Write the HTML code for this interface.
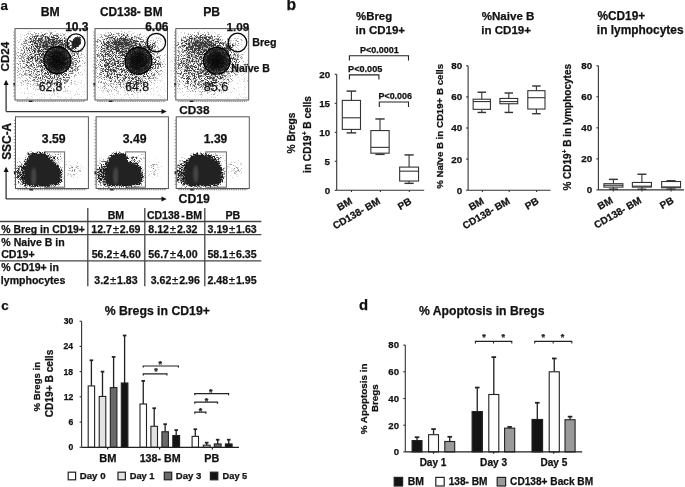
<!DOCTYPE html>
<html><head><meta charset="utf-8"><style>
html,body{margin:0;padding:0;background:#fff;width:685px;height:487px;overflow:hidden}
svg{display:block;will-change:transform;font-family:"Liberation Sans", sans-serif;font-weight:bold}
text{stroke:#111;stroke-width:0.25px;paint-order:stroke}
</style></head><body>
<svg width="685" height="487" viewBox="0 0 685 487">
<rect width="685" height="487" fill="#fff"/>
<text x="0.51" y="9.60" font-size="13.32" fill="#111">a</text>
<text x="40.78" y="15.80" font-size="12.24" fill="#111">BM</text>
<text x="99.91" y="15.80" font-size="11.87" fill="#111">CD138- BM</text>
<text x="203.19" y="15.90" font-size="12.14" fill="#111">PB</text>
<defs>
<radialGradient id="rg"><stop offset="0" stop-color="#000" stop-opacity="1"/><stop offset="0.6" stop-color="#000" stop-opacity="0.6"/><stop offset="1" stop-color="#000" stop-opacity="0"/></radialGradient>
<radialGradient id="rgf"><stop offset="0" stop-color="#000" stop-opacity="1"/><stop offset="0.75" stop-color="#000" stop-opacity="0.9"/><stop offset="1" stop-color="#000" stop-opacity="0"/></radialGradient>
<radialGradient id="rgc"><stop offset="0" stop-color="#000" stop-opacity="1"/><stop offset="0.9" stop-color="#000" stop-opacity="1"/><stop offset="1" stop-color="#000" stop-opacity="0.5"/></radialGradient><radialGradient id="rcore"><stop offset="0" stop-color="#000" stop-opacity="0.88"/><stop offset="0.6" stop-color="#000" stop-opacity="0.72"/><stop offset="1" stop-color="#000" stop-opacity="0.3"/></radialGradient><radialGradient id="rgl"><stop offset="0" stop-color="#000" stop-opacity="1"/><stop offset="1" stop-color="#000" stop-opacity="0"/></radialGradient>
<filter id="st0" x="0" y="0" width="1" height="1" color-interpolation-filters="sRGB">
<feTurbulence type="fractalNoise" baseFrequency="1.7" numOctaves="1" seed="3" result="n"/>
<feComponentTransfer in="n" result="nu"><feFuncR type="table" tableValues="0 0 0 0 0 0 0 0 0 0.001 0.004 0.013 0.029 0.052 0.089 0.126 0.183 0.240 0.316 0.415 0.492 0.589 0.688 0.762 0.825 0.871 0.910 0.946 0.969 0.986 0.996 0.998 1 1 1 1 1 1 1 1 1"/></feComponentTransfer>
<feColorMatrix in="nu" type="matrix" values="0 0 0 0 0 0 0 0 0 0 0 0 0 0 0 1 0 0 0 0" result="na"/>
<feComposite in="SourceAlpha" in2="na" operator="arithmetic" k2="2.2" k3="-1.6" k4="0" result="df"/>
<feColorMatrix type="matrix" values="0 0 0 0 0.22 0 0 0 0 0.22 0 0 0 0 0.22 0 0 0 1 0"/>
<feGaussianBlur stdDeviation="0.75"/>
</filter>
<filter id="st1" x="0" y="0" width="1" height="1" color-interpolation-filters="sRGB">
<feTurbulence type="fractalNoise" baseFrequency="1.7" numOctaves="1" seed="10" result="n"/>
<feComponentTransfer in="n" result="nu"><feFuncR type="table" tableValues="0 0 0 0 0 0 0 0 0 0.001 0.004 0.013 0.029 0.052 0.089 0.126 0.183 0.240 0.316 0.415 0.492 0.589 0.688 0.762 0.825 0.871 0.910 0.946 0.969 0.986 0.996 0.998 1 1 1 1 1 1 1 1 1"/></feComponentTransfer>
<feColorMatrix in="nu" type="matrix" values="0 0 0 0 0 0 0 0 0 0 0 0 0 0 0 1 0 0 0 0" result="na"/>
<feComposite in="SourceAlpha" in2="na" operator="arithmetic" k2="2.2" k3="-1.6" k4="0" result="df"/>
<feColorMatrix type="matrix" values="0 0 0 0 0.22 0 0 0 0 0.22 0 0 0 0 0.22 0 0 0 1 0"/>
<feGaussianBlur stdDeviation="0.75"/>
</filter>
<filter id="st2" x="0" y="0" width="1" height="1" color-interpolation-filters="sRGB">
<feTurbulence type="fractalNoise" baseFrequency="1.7" numOctaves="1" seed="17" result="n"/>
<feComponentTransfer in="n" result="nu"><feFuncR type="table" tableValues="0 0 0 0 0 0 0 0 0 0.001 0.004 0.013 0.029 0.052 0.089 0.126 0.183 0.240 0.316 0.415 0.492 0.589 0.688 0.762 0.825 0.871 0.910 0.946 0.969 0.986 0.996 0.998 1 1 1 1 1 1 1 1 1"/></feComponentTransfer>
<feColorMatrix in="nu" type="matrix" values="0 0 0 0 0 0 0 0 0 0 0 0 0 0 0 1 0 0 0 0" result="na"/>
<feComposite in="SourceAlpha" in2="na" operator="arithmetic" k2="2.2" k3="-1.6" k4="0" result="df"/>
<feColorMatrix type="matrix" values="0 0 0 0 0.22 0 0 0 0 0.22 0 0 0 0 0.22 0 0 0 1 0"/>
<feGaussianBlur stdDeviation="0.75"/>
</filter>
<filter id="st3" x="0" y="0" width="1" height="1" color-interpolation-filters="sRGB">
<feTurbulence type="fractalNoise" baseFrequency="1.7" numOctaves="1" seed="24" result="n"/>
<feComponentTransfer in="n" result="nu"><feFuncR type="table" tableValues="0 0 0 0 0 0 0 0 0 0.001 0.004 0.013 0.029 0.052 0.089 0.126 0.183 0.240 0.316 0.415 0.492 0.589 0.688 0.762 0.825 0.871 0.910 0.946 0.969 0.986 0.996 0.998 1 1 1 1 1 1 1 1 1"/></feComponentTransfer>
<feColorMatrix in="nu" type="matrix" values="0 0 0 0 0 0 0 0 0 0 0 0 0 0 0 1 0 0 0 0" result="na"/>
<feComposite in="SourceAlpha" in2="na" operator="arithmetic" k2="2.2" k3="-1.6" k4="0" result="df"/>
<feColorMatrix type="matrix" values="0 0 0 0 0.12 0 0 0 0 0.12 0 0 0 0 0.12 0 0 0 1 0"/>
<feGaussianBlur stdDeviation="0.75"/>
</filter>
<filter id="st4" x="0" y="0" width="1" height="1" color-interpolation-filters="sRGB">
<feTurbulence type="fractalNoise" baseFrequency="1.7" numOctaves="1" seed="31" result="n"/>
<feComponentTransfer in="n" result="nu"><feFuncR type="table" tableValues="0 0 0 0 0 0 0 0 0 0.001 0.004 0.013 0.029 0.052 0.089 0.126 0.183 0.240 0.316 0.415 0.492 0.589 0.688 0.762 0.825 0.871 0.910 0.946 0.969 0.986 0.996 0.998 1 1 1 1 1 1 1 1 1"/></feComponentTransfer>
<feColorMatrix in="nu" type="matrix" values="0 0 0 0 0 0 0 0 0 0 0 0 0 0 0 1 0 0 0 0" result="na"/>
<feComposite in="SourceAlpha" in2="na" operator="arithmetic" k2="2.2" k3="-1.6" k4="0" result="df"/>
<feColorMatrix type="matrix" values="0 0 0 0 0.12 0 0 0 0 0.12 0 0 0 0 0.12 0 0 0 1 0"/>
<feGaussianBlur stdDeviation="0.75"/>
</filter>
<filter id="st5" x="0" y="0" width="1" height="1" color-interpolation-filters="sRGB">
<feTurbulence type="fractalNoise" baseFrequency="1.7" numOctaves="1" seed="38" result="n"/>
<feComponentTransfer in="n" result="nu"><feFuncR type="table" tableValues="0 0 0 0 0 0 0 0 0 0.001 0.004 0.013 0.029 0.052 0.089 0.126 0.183 0.240 0.316 0.415 0.492 0.589 0.688 0.762 0.825 0.871 0.910 0.946 0.969 0.986 0.996 0.998 1 1 1 1 1 1 1 1 1"/></feComponentTransfer>
<feColorMatrix in="nu" type="matrix" values="0 0 0 0 0 0 0 0 0 0 0 0 0 0 0 1 0 0 0 0" result="na"/>
<feComposite in="SourceAlpha" in2="na" operator="arithmetic" k2="2.2" k3="-1.6" k4="0" result="df"/>
<feColorMatrix type="matrix" values="0 0 0 0 0.12 0 0 0 0 0.12 0 0 0 0 0.12 0 0 0 1 0"/>
<feGaussianBlur stdDeviation="0.75"/>
</filter>
<filter id="bl1"><feGaussianBlur stdDeviation="1"/></filter>
<filter id="bl05"><feGaussianBlur stdDeviation="0.6"/></filter><filter id="bl15"><feGaussianBlur stdDeviation="1.5"/></filter>
<filter id="bl2"><feGaussianBlur stdDeviation="2"/></filter>
</defs>
<g>
<rect x="15.00" y="28.60" width="72.30" height="71.40" fill="#fff"/>
<g filter="url(#st0)"><rect x="15.00" y="31.60" width="72.30" height="68.40" fill="#000" opacity="0.110"/><ellipse cx="48.00" cy="42.60" rx="28.00" ry="13.00" fill="url(#rgl)" opacity="0.990"/><ellipse cx="32.00" cy="60.60" rx="22.00" ry="32.00" fill="url(#rgl)" opacity="0.550"/><ellipse cx="57.00" cy="61.60" rx="26.00" ry="26.00" fill="url(#rgl)" opacity="0.880"/><ellipse cx="53.00" cy="80.60" rx="26.00" ry="16.00" fill="url(#rgl)" opacity="0.380"/><ellipse cx="77.00" cy="60.60" rx="11.00" ry="18.00" fill="url(#rgl)" opacity="0.310"/><ellipse cx="66.00" cy="45.60" rx="9.00" ry="6.00" fill="url(#rgl)" opacity="0.720" transform="rotate(-30.0 66.00 45.60)"/><ellipse cx="76.30" cy="42.40" rx="7.40" ry="5.00" fill="url(#rgf)" opacity="1.000" transform="rotate(-60.0 76.30 42.40)"/><ellipse cx="72.50" cy="47.10" rx="4.50" ry="3.00" fill="url(#rgl)" opacity="0.700" transform="rotate(-55.0 72.50 47.10)"/><circle cx="57.40" cy="60.20" r="13.30" fill="#000" opacity="0.8"/></g>
<circle cx="57.40" cy="60.20" r="12.80" fill="url(#rcore)"/>
<ellipse cx="76.40" cy="42.20" rx="5.60" ry="3.60" transform="rotate(-60 76.40 42.20)" fill="#1c1c1c" opacity="0.85" filter="url(#bl05)"/>
</g>
<g>
<rect x="95.00" y="28.60" width="72.50" height="71.40" fill="#fff"/>
<g filter="url(#st1)"><rect x="95.00" y="31.60" width="72.50" height="68.40" fill="#000" opacity="0.110"/><ellipse cx="123.00" cy="43.60" rx="30.00" ry="14.00" fill="url(#rgl)" opacity="0.990"/><ellipse cx="109.00" cy="62.60" rx="21.00" ry="33.00" fill="url(#rgl)" opacity="0.680"/><ellipse cx="138.00" cy="61.60" rx="27.00" ry="27.00" fill="url(#rgl)" opacity="0.880"/><ellipse cx="131.00" cy="81.60" rx="26.00" ry="17.00" fill="url(#rgl)" opacity="0.400"/><ellipse cx="157.00" cy="62.60" rx="11.00" ry="18.00" fill="url(#rgl)" opacity="0.310"/><ellipse cx="148.00" cy="48.60" rx="7.00" ry="5.00" fill="url(#rgl)" opacity="0.850" transform="rotate(-35.0 148.00 48.60)"/><ellipse cx="152.50" cy="46.10" rx="5.00" ry="3.50" fill="url(#rgl)" opacity="0.750" transform="rotate(-45.0 152.50 46.10)"/><ellipse cx="156.00" cy="41.60" rx="7.00" ry="6.00" fill="url(#rgl)" opacity="0.300"/><circle cx="138.50" cy="60.80" r="13.00" fill="#000" opacity="0.8"/></g>
<circle cx="138.50" cy="60.80" r="12.50" fill="url(#rcore)"/>
</g>
<g>
<rect x="175.80" y="28.60" width="72.90" height="71.40" fill="#fff"/>
<g filter="url(#st2)"><rect x="175.80" y="31.60" width="72.90" height="68.40" fill="#000" opacity="0.110"/><ellipse cx="201.80" cy="44.60" rx="30.00" ry="14.00" fill="url(#rgl)" opacity="0.990"/><ellipse cx="187.80" cy="64.60" rx="20.00" ry="33.00" fill="url(#rgl)" opacity="0.680"/><ellipse cx="216.80" cy="61.60" rx="27.00" ry="27.00" fill="url(#rgl)" opacity="0.880"/><ellipse cx="208.80" cy="81.60" rx="26.00" ry="17.00" fill="url(#rgl)" opacity="0.450"/><ellipse cx="235.80" cy="62.60" rx="11.00" ry="18.00" fill="url(#rgl)" opacity="0.310"/><ellipse cx="227.30" cy="48.60" rx="7.00" ry="5.00" fill="url(#rgl)" opacity="0.900" transform="rotate(-35.0 227.30 48.60)"/><ellipse cx="232.80" cy="46.10" rx="5.00" ry="3.50" fill="url(#rgl)" opacity="0.700" transform="rotate(-45.0 232.80 46.10)"/><ellipse cx="237.30" cy="41.60" rx="7.00" ry="6.00" fill="url(#rgl)" opacity="0.280"/><circle cx="216.80" cy="60.80" r="13.00" fill="#000" opacity="0.8"/></g>
<circle cx="216.80" cy="60.80" r="12.50" fill="url(#rcore)"/>
</g>
<circle cx="57.4" cy="60.2" r="13.5" fill="none" stroke="#000" stroke-width="1.4"/>
<circle cx="76.0" cy="42.8" r="9.0" fill="none" stroke="#000" stroke-width="1.3"/>
<circle cx="138.5" cy="60.8" r="13.3" fill="none" stroke="#000" stroke-width="1.4"/>
<circle cx="156.3" cy="42.6" r="9.3" fill="none" stroke="#000" stroke-width="1.3"/>
<circle cx="216.8" cy="60.8" r="13.3" fill="none" stroke="#000" stroke-width="1.4"/>
<circle cx="237.5" cy="42.5" r="9.3" fill="none" stroke="#000" stroke-width="1.3"/>
<rect x="15.00" y="28.60" width="72.30" height="71.40" fill="none" stroke="#555" stroke-width="1.00"/>
<line x1="17.00" y1="101.20" x2="85.30" y2="101.20" stroke="#777" stroke-width="1" stroke-dasharray="1.6 0.6"/>
<line x1="13.90" y1="31.60" x2="13.90" y2="98.00" stroke="#777" stroke-width="1" stroke-dasharray="1 2.2"/>
<rect x="29.00" y="100.60" width="3.5" height="1.4" fill="#222"/>
<rect x="13.40" y="83.00" width="1.5" height="2.5" fill="#222"/>
<rect x="95.00" y="28.60" width="72.50" height="71.40" fill="none" stroke="#555" stroke-width="1.00"/>
<line x1="97.00" y1="101.20" x2="165.50" y2="101.20" stroke="#777" stroke-width="1" stroke-dasharray="1.6 0.6"/>
<line x1="93.90" y1="31.60" x2="93.90" y2="98.00" stroke="#777" stroke-width="1" stroke-dasharray="1 2.2"/>
<rect x="109.00" y="100.60" width="3.5" height="1.4" fill="#222"/>
<rect x="93.40" y="83.00" width="1.5" height="2.5" fill="#222"/>
<rect x="175.80" y="28.60" width="72.90" height="71.40" fill="none" stroke="#555" stroke-width="1.00"/>
<line x1="177.80" y1="101.20" x2="246.70" y2="101.20" stroke="#777" stroke-width="1" stroke-dasharray="1.6 0.6"/>
<line x1="174.70" y1="31.60" x2="174.70" y2="98.00" stroke="#777" stroke-width="1" stroke-dasharray="1 2.2"/>
<rect x="189.80" y="100.60" width="3.5" height="1.4" fill="#222"/>
<rect x="174.20" y="83.00" width="1.5" height="2.5" fill="#222"/>
<text x="65.14" y="30.60" font-size="12.02" fill="#111">10.3</text>
<text x="145.16" y="30.60" font-size="12.01" fill="#111">6.06</text>
<text x="226.46" y="30.60" font-size="11.70" fill="#111">1.09</text>
<text x="38.68" y="90.60" font-size="12.20" font-weight="normal" fill="#111" stroke="#111" stroke-width="0.3">62.8</text>
<text x="125.28" y="90.60" font-size="12.20" font-weight="normal" fill="#111" stroke="#111" stroke-width="0.3">64.8</text>
<text x="203.65" y="90.60" font-size="12.59" font-weight="normal" fill="#111" stroke="#111" stroke-width="0.3">85.6</text>
<text x="252.19" y="45.60" font-size="10.68" fill="#111">Breg</text>
<text x="231.30" y="72.40" font-size="10.52" fill="#111">Naïve B</text>
<text x="179.32" y="114.10" font-size="11.79" fill="#111">CD38</text>
<text transform="translate(8.80,71.48) rotate(-90)" x="0" y="0" font-size="11.59" fill="#111">CD24</text>
<line x1="6.10" y1="111.60" x2="6.10" y2="84.50" stroke="#333" stroke-width="1.30"/>
<path d="M3.6,85 L6.1,79.8 L8.6,85 Z" fill="#111" stroke="#111" stroke-width="0.00"/>
<line x1="6.10" y1="111.60" x2="162.00" y2="111.60" stroke="#333" stroke-width="1.30"/>
<path d="M161.5,109.1 L166.7,111.6 L161.5,114.1 Z" fill="#111" stroke="#111" stroke-width="0.00"/>
<rect x="15.50" y="116.8" width="72.90" height="71.7" fill="#fff"/>
<rect x="44.50" y="151.90" width="20.10" height="35.30" fill="none" stroke="#666" stroke-width="1.00"/>
<g>
<clipPath id="bc0"><rect x="15.50" y="151.40" width="72.90" height="37.10"/></clipPath>
<g clip-path="url(#bc0)"><g filter="url(#st3)"><ellipse cx="22.50" cy="172.80" rx="9.00" ry="19.00" fill="url(#rgl)" opacity="0.750"/><ellipse cx="18.50" cy="174.80" rx="6.00" ry="13.00" fill="url(#rgl)" opacity="0.500"/><ellipse cx="54.50" cy="157.80" rx="12.00" ry="8.00" fill="url(#rgl)" opacity="0.500"/><ellipse cx="73.50" cy="168.80" rx="12.00" ry="12.00" fill="url(#rgl)" opacity="0.360"/><path d="M29.50,152.00 L46.00,152.00 L47.50,154.80 L51.50,158.80 L56.50,163.30 L61.00,167.30 L62.70,173.80 L61.70,181.80 L57.50,185.60 L45.50,186.80 L26.50,186.80 L23.10,184.30 L22.50,176.80 L23.30,166.80 L26.00,158.30 Z" fill="#000" filter="url(#bl15)"/></g>
<path d="M29.50,152.00 L46.00,152.00 L47.50,154.80 L51.50,158.80 L56.50,163.30 L61.00,167.30 L62.70,173.80 L61.70,181.80 L57.50,185.60 L45.50,186.80 L26.50,186.80 L23.10,184.30 L22.50,176.80 L23.30,166.80 L26.00,158.30 Z" fill="#222" transform="translate(42.50 171.80) scale(0.86 0.88) translate(-42.50 -171.80)"/>
</g>
<ellipse cx="33.80" cy="176.80" rx="2.6" ry="9" fill="#fff" opacity="0.16" filter="url(#bl1)"/>
</g>
<rect x="96.10" y="116.8" width="72.30" height="71.7" fill="#fff"/>
<rect x="125.70" y="151.90" width="19.70" height="35.30" fill="none" stroke="#666" stroke-width="1.00"/>
<g>
<clipPath id="bc1"><rect x="96.10" y="151.40" width="72.30" height="37.10"/></clipPath>
<g clip-path="url(#bc1)"><g filter="url(#st4)"><ellipse cx="103.10" cy="172.80" rx="10.00" ry="19.00" fill="url(#rgl)" opacity="0.800"/><ellipse cx="99.10" cy="174.80" rx="6.00" ry="13.00" fill="url(#rgl)" opacity="0.500"/><ellipse cx="135.10" cy="158.80" rx="12.00" ry="8.00" fill="url(#rgl)" opacity="0.500"/><ellipse cx="154.10" cy="168.80" rx="12.00" ry="12.00" fill="url(#rgl)" opacity="0.340"/><path d="M109.60,156.80 L112.10,153.30 L116.10,152.20 L122.10,152.20 L125.60,153.80 L127.10,157.80 L129.10,161.80 L134.10,162.80 L139.10,164.30 L142.60,168.80 L143.60,176.80 L142.60,182.80 L139.10,185.80 L126.10,186.80 L107.10,186.80 L104.10,183.80 L103.60,176.80 L105.10,166.80 L107.60,159.80 Z" fill="#000" filter="url(#bl15)"/></g>
<path d="M109.60,156.80 L112.10,153.30 L116.10,152.20 L122.10,152.20 L125.60,153.80 L127.10,157.80 L129.10,161.80 L134.10,162.80 L139.10,164.30 L142.60,168.80 L143.60,176.80 L142.60,182.80 L139.10,185.80 L126.10,186.80 L107.10,186.80 L104.10,183.80 L103.60,176.80 L105.10,166.80 L107.60,159.80 Z" fill="#222" transform="translate(123.10 171.80) scale(0.86 0.88) translate(-123.10 -171.80)"/>
</g>
<ellipse cx="115.70" cy="175.90" rx="2.6" ry="9" fill="#fff" opacity="0.16" filter="url(#bl1)"/>
</g>
<rect x="176.20" y="116.8" width="73.10" height="71.7" fill="#fff"/>
<rect x="205.70" y="151.90" width="20.70" height="35.30" fill="none" stroke="#666" stroke-width="1.00"/>
<g>
<clipPath id="bc2"><rect x="176.20" y="151.40" width="73.10" height="37.10"/></clipPath>
<g clip-path="url(#bc2)"><g filter="url(#st5)"><ellipse cx="183.20" cy="172.80" rx="10.00" ry="19.00" fill="url(#rgl)" opacity="0.800"/><ellipse cx="179.20" cy="174.80" rx="6.00" ry="13.00" fill="url(#rgl)" opacity="0.500"/><ellipse cx="215.20" cy="157.80" rx="12.00" ry="8.00" fill="url(#rgl)" opacity="0.500"/><ellipse cx="234.20" cy="168.80" rx="12.00" ry="12.00" fill="url(#rgl)" opacity="0.360"/><path d="M191.20,155.80 L193.70,153.30 L204.20,153.20 L207.20,154.30 L212.20,156.80 L217.20,160.30 L221.70,164.80 L223.50,171.80 L223.50,178.80 L222.20,183.30 L218.20,185.80 L206.20,186.80 L187.20,186.80 L183.70,183.80 L182.70,174.80 L184.20,164.80 L187.20,158.80 Z" fill="#000" filter="url(#bl15)"/></g>
<path d="M191.20,155.80 L193.70,153.30 L204.20,153.20 L207.20,154.30 L212.20,156.80 L217.20,160.30 L221.70,164.80 L223.50,171.80 L223.50,178.80 L222.20,183.30 L218.20,185.80 L206.20,186.80 L187.20,186.80 L183.70,183.80 L182.70,174.80 L184.20,164.80 L187.20,158.80 Z" fill="#222" transform="translate(203.20 171.80) scale(0.86 0.88) translate(-203.20 -171.80)"/>
</g>
<ellipse cx="195.80" cy="174.00" rx="2.6" ry="9" fill="#fff" opacity="0.16" filter="url(#bl1)"/>
</g>
<rect x="15.50" y="116.80" width="72.90" height="71.70" fill="none" stroke="#555" stroke-width="1.00"/>
<line x1="17.50" y1="189.70" x2="86.40" y2="189.70" stroke="#777" stroke-width="1" stroke-dasharray="1.6 0.6"/>
<line x1="14.40" y1="119.80" x2="14.40" y2="186.50" stroke="#777" stroke-width="1" stroke-dasharray="1 2.2"/>
<rect x="29.50" y="189.10" width="3.5" height="1.4" fill="#222"/>
<rect x="13.90" y="171.50" width="1.5" height="2.5" fill="#222"/>
<rect x="96.10" y="116.80" width="72.30" height="71.70" fill="none" stroke="#555" stroke-width="1.00"/>
<line x1="98.10" y1="189.70" x2="166.40" y2="189.70" stroke="#777" stroke-width="1" stroke-dasharray="1.6 0.6"/>
<line x1="95.00" y1="119.80" x2="95.00" y2="186.50" stroke="#777" stroke-width="1" stroke-dasharray="1 2.2"/>
<rect x="110.10" y="189.10" width="3.5" height="1.4" fill="#222"/>
<rect x="94.50" y="171.50" width="1.5" height="2.5" fill="#222"/>
<rect x="176.20" y="116.80" width="73.10" height="71.70" fill="none" stroke="#555" stroke-width="1.00"/>
<line x1="178.20" y1="189.70" x2="247.30" y2="189.70" stroke="#777" stroke-width="1" stroke-dasharray="1.6 0.6"/>
<line x1="175.10" y1="119.80" x2="175.10" y2="186.50" stroke="#777" stroke-width="1" stroke-dasharray="1 2.2"/>
<rect x="190.20" y="189.10" width="3.5" height="1.4" fill="#222"/>
<rect x="174.60" y="171.50" width="1.5" height="2.5" fill="#222"/>
<text x="41.82" y="143.10" font-size="12.25" fill="#111">3.59</text>
<text x="122.72" y="143.10" font-size="12.25" fill="#111">3.49</text>
<text x="203.84" y="143.10" font-size="12.08" fill="#111">1.39</text>
<text transform="translate(11.00,159.84) rotate(-90)" x="0" y="0" font-size="11.91" fill="#111">SSC-A</text>
<text x="178.50" y="202.50" font-size="12.31" fill="#111">CD19</text>
<line x1="6.10" y1="198.90" x2="6.10" y2="171.50" stroke="#333" stroke-width="1.30"/>
<path d="M3.6,172 L6.1,166.8 L8.6,172 Z" fill="#111" stroke="#111" stroke-width="0.00"/>
<line x1="6.10" y1="198.90" x2="162.00" y2="198.90" stroke="#333" stroke-width="1.30"/>
<path d="M161.5,196.4 L166.7,198.9 L161.5,201.4 Z" fill="#111" stroke="#111" stroke-width="0.00"/>
<line x1="87.80" y1="207.90" x2="87.80" y2="286.30" stroke="#444" stroke-width="1.30"/>
<line x1="144.80" y1="207.90" x2="144.80" y2="286.30" stroke="#444" stroke-width="1.30"/>
<line x1="204.80" y1="207.90" x2="204.80" y2="286.30" stroke="#444" stroke-width="1.30"/>
<line x1="0.00" y1="221.50" x2="261.30" y2="221.50" stroke="#444" stroke-width="1.30"/>
<line x1="0.00" y1="234.70" x2="261.30" y2="234.70" stroke="#444" stroke-width="1.30"/>
<line x1="0.00" y1="260.90" x2="261.30" y2="260.90" stroke="#444" stroke-width="1.30"/>
<text x="107.69" y="219.40" font-size="10.55" fill="#111">BM</text>
<text x="146.9" y="219.4" font-size="10.5" fill="#111">CD138<tspan dx="1.6">-</tspan><tspan dx="1.0">BM</tspan></text>
<text x="225.49" y="219.40" font-size="10.65" fill="#111">PB</text>
<text x="1.34" y="232.60" font-size="10.42" fill="#111">% Breg in CD19+</text>
<text x="1.34" y="245.80" font-size="10.57" fill="#111">% Naive B in</text>
<text x="1.16" y="258.00" font-size="10.66" fill="#111">CD19+</text>
<text x="1.34" y="271.20" font-size="10.52" fill="#111">% CD19+ in</text>
<text x="0.86" y="283.50" font-size="10.55" fill="#111">lymphocytes</text>
<text x="91.33" y="232.60" font-size="10.60" fill="#111">12.7<tspan font-size="11.5" font-weight="normal" dx="0.8">±</tspan><tspan dx="0.8">2.69</tspan></text>
<text x="148.36" y="232.60" font-size="10.60" fill="#111">8.12<tspan font-size="11.5" font-weight="normal" dx="0.8">±</tspan><tspan dx="0.8">2.32</tspan></text>
<text x="207.56" y="232.60" font-size="10.60" fill="#111">3.19<tspan font-size="11.5" font-weight="normal" dx="0.8">±</tspan><tspan dx="0.8">1.63</tspan></text>
<text x="91.67" y="258.20" font-size="10.60" fill="#111">56.2<tspan font-size="11.5" font-weight="normal" dx="0.8">±</tspan><tspan dx="0.8">4.60</tspan></text>
<text x="148.37" y="258.20" font-size="10.60" fill="#111">56.7<tspan font-size="11.5" font-weight="normal" dx="0.8">±</tspan><tspan dx="0.8">4.00</tspan></text>
<text x="207.47" y="258.20" font-size="10.60" fill="#111">58.1<tspan font-size="11.5" font-weight="normal" dx="0.8">±</tspan><tspan dx="0.8">6.35</tspan></text>
<text x="94.36" y="283.80" font-size="10.60" fill="#111">3.2<tspan font-size="11.5" font-weight="normal" dx="0.8">±</tspan><tspan dx="0.8">1.83</tspan></text>
<text x="150.66" y="283.80" font-size="10.60" fill="#111">3.62<tspan font-size="11.5" font-weight="normal" dx="0.8">±</tspan><tspan dx="0.8">2.96</tspan></text>
<text x="207.43" y="283.80" font-size="10.60" fill="#111">2.48<tspan font-size="11.5" font-weight="normal" dx="0.8">±</tspan><tspan dx="0.8">1.95</tspan></text>
<text x="286.57" y="10.20" font-size="15.68" fill="#111">b</text>
<text x="356.02" y="20.20" font-size="11.41" fill="#111">%Breg</text>
<text x="355.50" y="33.60" font-size="11.51" fill="#111">in CD19+</text>
<line x1="336.70" y1="74.30" x2="336.70" y2="190.30" stroke="#333" stroke-width="1.10"/>
<line x1="334.70" y1="190.30" x2="336.70" y2="190.30" stroke="#333" stroke-width="1.10"/>
<text x="324.75" y="193.72" font-size="9.80" fill="#111">0</text>
<line x1="334.70" y1="161.30" x2="336.70" y2="161.30" stroke="#333" stroke-width="1.10"/>
<text x="324.62" y="164.72" font-size="9.80" fill="#111">5</text>
<line x1="334.70" y1="132.30" x2="336.70" y2="132.30" stroke="#333" stroke-width="1.10"/>
<text x="319.30" y="135.72" font-size="9.80" fill="#111">10</text>
<line x1="334.70" y1="103.30" x2="336.70" y2="103.30" stroke="#333" stroke-width="1.10"/>
<text x="319.17" y="106.72" font-size="9.80" fill="#111">15</text>
<line x1="334.70" y1="74.30" x2="336.70" y2="74.30" stroke="#333" stroke-width="1.10"/>
<text x="319.30" y="77.72" font-size="9.80" fill="#111">20</text>
<line x1="336.70" y1="190.30" x2="424.20" y2="190.30" stroke="#333" stroke-width="1.10"/>
<line x1="351.50" y1="190.30" x2="351.50" y2="192.00" stroke="#333" stroke-width="1.10"/>
<line x1="380.40" y1="190.30" x2="380.40" y2="192.00" stroke="#333" stroke-width="1.10"/>
<line x1="409.30" y1="190.30" x2="409.30" y2="192.00" stroke="#333" stroke-width="1.10"/>
<line x1="351.40" y1="100.40" x2="351.40" y2="91.12" stroke="#333" stroke-width="1.10"/>
<line x1="346.60" y1="91.12" x2="356.20" y2="91.12" stroke="#333" stroke-width="1.43"/>
<line x1="351.40" y1="129.40" x2="351.40" y2="132.88" stroke="#333" stroke-width="1.10"/>
<line x1="346.60" y1="132.88" x2="356.20" y2="132.88" stroke="#333" stroke-width="1.43"/>
<rect x="342.30" y="100.40" width="18.20" height="29.00" fill="#fff" stroke="#333" stroke-width="1.10"/>
<line x1="342.30" y1="117.80" x2="360.50" y2="117.80" stroke="#333" stroke-width="1.10"/>
<line x1="380.00" y1="130.56" x2="380.00" y2="118.96" stroke="#333" stroke-width="1.10"/>
<line x1="375.35" y1="118.96" x2="384.65" y2="118.96" stroke="#333" stroke-width="1.43"/>
<line x1="380.00" y1="153.18" x2="380.00" y2="154.34" stroke="#333" stroke-width="1.10"/>
<line x1="375.35" y1="154.34" x2="384.65" y2="154.34" stroke="#333" stroke-width="1.43"/>
<rect x="370.85" y="130.56" width="18.30" height="22.62" fill="#fff" stroke="#333" stroke-width="1.10"/>
<line x1="370.85" y1="147.38" x2="389.15" y2="147.38" stroke="#333" stroke-width="1.10"/>
<line x1="409.10" y1="167.10" x2="409.10" y2="154.92" stroke="#333" stroke-width="1.10"/>
<line x1="404.50" y1="154.92" x2="413.70" y2="154.92" stroke="#333" stroke-width="1.43"/>
<line x1="409.10" y1="181.02" x2="409.10" y2="183.34" stroke="#333" stroke-width="1.10"/>
<line x1="404.50" y1="183.34" x2="413.70" y2="183.34" stroke="#333" stroke-width="1.43"/>
<rect x="399.65" y="167.10" width="18.90" height="13.92" fill="#fff" stroke="#333" stroke-width="1.10"/>
<line x1="399.65" y1="171.16" x2="418.55" y2="171.16" stroke="#333" stroke-width="1.10"/>
<path d="M349.40,60.50 L349.40,55.70 L408.50,55.70 L408.50,60.50" fill="none" stroke="#222" stroke-width="1.10"/>
<path d="M349.40,79.40 L349.40,74.90 L378.90,74.90 L378.90,79.40" fill="none" stroke="#222" stroke-width="1.10"/>
<path d="M379.30,107.00 L379.30,102.00 L408.50,102.00 L408.50,107.00" fill="none" stroke="#222" stroke-width="1.10"/>
<text x="359.90" y="52.60" font-size="9.02" fill="#111">P&lt;0.0001</text>
<text x="348.09" y="72.00" font-size="9.13" fill="#111">P&lt;0.005</text>
<text x="378.50" y="99.00" font-size="8.93" fill="#111">P&lt;0.006</text>
<text transform="translate(295.40,153.45) rotate(-90)" x="0" y="0" font-size="10.20" fill="#111">% Bregs</text>
<text transform="translate(310.60,172.90) rotate(-90)" x="0" y="0" font-size="10.10" fill="#111">in CD19<tspan dy="-3.84" font-size="6.57">+</tspan><tspan dy="3.84"> B cells</tspan></text>
<text transform="translate(353.00,203.20) rotate(-30)" x="0" y="0" font-size="10.00" text-anchor="end" fill="#111">BM</text>
<text transform="translate(381.00,203.20) rotate(-30)" x="0" y="0" font-size="10.00" text-anchor="end" fill="#111">CD138- BM</text>
<text transform="translate(412.20,203.20) rotate(-30)" x="0" y="0" font-size="10.00" text-anchor="end" fill="#111">PB</text>
<text x="481.71" y="20.20" font-size="11.57" fill="#111">%Naive B</text>
<text x="481.19" y="33.60" font-size="11.58" fill="#111">in CD19+</text>
<line x1="468.10" y1="65.80" x2="468.10" y2="190.20" stroke="#333" stroke-width="1.10"/>
<line x1="466.10" y1="190.20" x2="468.10" y2="190.20" stroke="#333" stroke-width="1.10"/>
<text x="456.65" y="193.62" font-size="9.80" fill="#111">0</text>
<line x1="466.10" y1="159.10" x2="468.10" y2="159.10" stroke="#333" stroke-width="1.10"/>
<text x="451.20" y="162.52" font-size="9.80" fill="#111">20</text>
<line x1="466.10" y1="128.00" x2="468.10" y2="128.00" stroke="#333" stroke-width="1.10"/>
<text x="451.20" y="131.42" font-size="9.80" fill="#111">40</text>
<line x1="466.10" y1="96.90" x2="468.10" y2="96.90" stroke="#333" stroke-width="1.10"/>
<text x="451.20" y="100.32" font-size="9.80" fill="#111">60</text>
<line x1="466.10" y1="65.80" x2="468.10" y2="65.80" stroke="#333" stroke-width="1.10"/>
<text x="451.20" y="69.22" font-size="9.80" fill="#111">80</text>
<line x1="468.10" y1="190.20" x2="550.50" y2="190.20" stroke="#333" stroke-width="1.10"/>
<line x1="482.40" y1="190.20" x2="482.40" y2="192.00" stroke="#333" stroke-width="1.10"/>
<line x1="509.20" y1="190.20" x2="509.20" y2="192.00" stroke="#333" stroke-width="1.10"/>
<line x1="536.60" y1="190.20" x2="536.60" y2="192.00" stroke="#333" stroke-width="1.10"/>
<line x1="481.80" y1="99.23" x2="481.80" y2="92.23" stroke="#333" stroke-width="1.10"/>
<line x1="477.55" y1="92.23" x2="486.05" y2="92.23" stroke="#333" stroke-width="1.43"/>
<line x1="481.80" y1="109.34" x2="481.80" y2="112.45" stroke="#333" stroke-width="1.10"/>
<line x1="477.55" y1="112.45" x2="486.05" y2="112.45" stroke="#333" stroke-width="1.43"/>
<rect x="473.15" y="99.23" width="17.30" height="10.11" fill="#fff" stroke="#333" stroke-width="1.10"/>
<line x1="473.15" y1="101.56" x2="490.45" y2="101.56" stroke="#333" stroke-width="1.10"/>
<line x1="508.80" y1="98.45" x2="508.80" y2="93.01" stroke="#333" stroke-width="1.10"/>
<line x1="504.55" y1="93.01" x2="513.05" y2="93.01" stroke="#333" stroke-width="1.43"/>
<line x1="508.80" y1="103.74" x2="508.80" y2="112.45" stroke="#333" stroke-width="1.10"/>
<line x1="504.55" y1="112.45" x2="513.05" y2="112.45" stroke="#333" stroke-width="1.43"/>
<rect x="499.90" y="98.45" width="17.80" height="5.29" fill="#fff" stroke="#333" stroke-width="1.10"/>
<line x1="499.90" y1="101.56" x2="517.70" y2="101.56" stroke="#333" stroke-width="1.10"/>
<line x1="536.40" y1="90.68" x2="536.40" y2="86.02" stroke="#333" stroke-width="1.10"/>
<line x1="532.15" y1="86.02" x2="540.65" y2="86.02" stroke="#333" stroke-width="1.43"/>
<line x1="536.40" y1="109.03" x2="536.40" y2="113.69" stroke="#333" stroke-width="1.10"/>
<line x1="532.15" y1="113.69" x2="540.65" y2="113.69" stroke="#333" stroke-width="1.43"/>
<rect x="527.80" y="90.68" width="17.20" height="18.35" fill="#fff" stroke="#333" stroke-width="1.10"/>
<line x1="527.80" y1="97.68" x2="545.00" y2="97.68" stroke="#333" stroke-width="1.10"/>
<text transform="translate(443.20,188.84) rotate(-90)" x="0" y="0" font-size="9.68" fill="#111">% Naïve B in CD19+ B cells</text>
<text transform="translate(484.80,203.00) rotate(-30)" x="0" y="0" font-size="10.00" text-anchor="end" fill="#111">BM</text>
<text transform="translate(510.80,203.00) rotate(-30)" x="0" y="0" font-size="10.00" text-anchor="end" fill="#111">CD138- BM</text>
<text transform="translate(539.60,203.00) rotate(-30)" x="0" y="0" font-size="10.00" text-anchor="end" fill="#111">PB</text>
<text x="597.40" y="20.00" font-size="11.86" fill="#111">%CD19+</text>
<text x="596.87" y="33.70" font-size="11.91" fill="#111">in lymphocytes</text>
<line x1="598.40" y1="65.80" x2="598.40" y2="189.90" stroke="#333" stroke-width="1.10"/>
<line x1="596.40" y1="189.90" x2="598.40" y2="189.90" stroke="#333" stroke-width="1.10"/>
<text x="586.75" y="193.32" font-size="9.80" fill="#111">0</text>
<line x1="596.40" y1="158.88" x2="598.40" y2="158.88" stroke="#333" stroke-width="1.10"/>
<text x="581.30" y="162.30" font-size="9.80" fill="#111">20</text>
<line x1="596.40" y1="127.85" x2="598.40" y2="127.85" stroke="#333" stroke-width="1.10"/>
<text x="581.30" y="131.27" font-size="9.80" fill="#111">40</text>
<line x1="596.40" y1="96.82" x2="598.40" y2="96.82" stroke="#333" stroke-width="1.10"/>
<text x="581.30" y="100.25" font-size="9.80" fill="#111">60</text>
<line x1="596.40" y1="65.80" x2="598.40" y2="65.80" stroke="#333" stroke-width="1.10"/>
<text x="581.30" y="69.22" font-size="9.80" fill="#111">80</text>
<line x1="598.40" y1="189.90" x2="684.00" y2="189.90" stroke="#333" stroke-width="1.10"/>
<line x1="613.30" y1="189.90" x2="613.30" y2="191.60" stroke="#333" stroke-width="1.10"/>
<line x1="642.00" y1="189.90" x2="642.00" y2="191.60" stroke="#333" stroke-width="1.10"/>
<line x1="671.10" y1="189.90" x2="671.10" y2="191.60" stroke="#333" stroke-width="1.10"/>
<line x1="613.40" y1="183.69" x2="613.40" y2="179.35" stroke="#333" stroke-width="1.10"/>
<line x1="608.90" y1="179.35" x2="617.90" y2="179.35" stroke="#333" stroke-width="1.43"/>
<line x1="613.40" y1="187.11" x2="613.40" y2="189.12" stroke="#333" stroke-width="1.10"/>
<line x1="608.90" y1="189.12" x2="617.90" y2="189.12" stroke="#333" stroke-width="1.43"/>
<rect x="603.90" y="183.69" width="19.00" height="3.41" fill="#fff" stroke="#333" stroke-width="1.10"/>
<line x1="603.90" y1="185.25" x2="622.90" y2="185.25" stroke="#333" stroke-width="1.10"/>
<line x1="641.90" y1="182.45" x2="641.90" y2="174.23" stroke="#333" stroke-width="1.10"/>
<line x1="637.40" y1="174.23" x2="646.40" y2="174.23" stroke="#333" stroke-width="1.43"/>
<line x1="641.90" y1="187.11" x2="641.90" y2="189.28" stroke="#333" stroke-width="1.10"/>
<line x1="637.40" y1="189.28" x2="646.40" y2="189.28" stroke="#333" stroke-width="1.43"/>
<rect x="632.35" y="182.45" width="19.10" height="4.65" fill="#fff" stroke="#333" stroke-width="1.10"/>
<line x1="632.35" y1="186.18" x2="651.45" y2="186.18" stroke="#333" stroke-width="1.10"/>
<line x1="671.10" y1="181.52" x2="671.10" y2="180.75" stroke="#333" stroke-width="1.10"/>
<line x1="666.60" y1="180.75" x2="675.60" y2="180.75" stroke="#333" stroke-width="1.43"/>
<line x1="671.10" y1="187.73" x2="671.10" y2="189.12" stroke="#333" stroke-width="1.10"/>
<line x1="666.60" y1="189.12" x2="675.60" y2="189.12" stroke="#333" stroke-width="1.43"/>
<rect x="661.65" y="181.52" width="18.90" height="6.20" fill="#fff" stroke="#333" stroke-width="1.10"/>
<line x1="661.65" y1="186.95" x2="680.55" y2="186.95" stroke="#333" stroke-width="1.10"/>
<text transform="translate(571.00,190.60) rotate(-90)" x="0" y="0" font-size="10.00" fill="#111">% CD19<tspan dy="-3.80" font-size="6.50">+</tspan><tspan dy="3.80"> B in lymphocytes</tspan></text>
<text transform="translate(613.60,202.30) rotate(-30)" x="0" y="0" font-size="10.00" text-anchor="end" fill="#111">BM</text>
<text transform="translate(642.30,202.30) rotate(-30)" x="0" y="0" font-size="10.00" text-anchor="end" fill="#111">CD138- BM</text>
<text transform="translate(674.40,202.30) rotate(-30)" x="0" y="0" font-size="10.00" text-anchor="end" fill="#111">PB</text>
<text x="1.18" y="310.40" font-size="13.33" fill="#111">c</text>
<text x="104.69" y="314.80" font-size="12.26" fill="#111">% Bregs in CD19+</text>
<line x1="81.60" y1="321.20" x2="81.60" y2="447.30" stroke="#333" stroke-width="1.10"/>
<line x1="79.60" y1="447.30" x2="81.60" y2="447.30" stroke="#333" stroke-width="1.10"/>
<text x="68.47" y="450.30" font-size="8.60" fill="#111">0</text>
<line x1="79.60" y1="422.08" x2="81.60" y2="422.08" stroke="#333" stroke-width="1.10"/>
<text x="68.43" y="425.08" font-size="8.60" fill="#111">6</text>
<line x1="79.60" y1="396.86" x2="81.60" y2="396.86" stroke="#333" stroke-width="1.10"/>
<text x="63.68" y="399.86" font-size="8.60" fill="#111">12</text>
<line x1="79.60" y1="371.64" x2="81.60" y2="371.64" stroke="#333" stroke-width="1.10"/>
<text x="63.60" y="374.64" font-size="8.60" fill="#111">18</text>
<line x1="79.60" y1="346.42" x2="81.60" y2="346.42" stroke="#333" stroke-width="1.10"/>
<text x="63.38" y="349.42" font-size="8.60" fill="#111">24</text>
<line x1="79.60" y1="321.20" x2="81.60" y2="321.20" stroke="#333" stroke-width="1.10"/>
<text x="63.69" y="324.20" font-size="8.60" fill="#111">30</text>
<line x1="91.40" y1="385.93" x2="91.40" y2="360.29" stroke="#222" stroke-width="1.32"/>
<line x1="89.60" y1="360.29" x2="93.20" y2="360.29" stroke="#222" stroke-width="1.76"/>
<rect x="88.20" y="385.93" width="6.40" height="61.37" fill="#fff" stroke="#222" stroke-width="1.10"/>
<line x1="102.50" y1="396.44" x2="102.50" y2="371.64" stroke="#222" stroke-width="1.32"/>
<line x1="100.70" y1="371.64" x2="104.30" y2="371.64" stroke="#222" stroke-width="1.76"/>
<rect x="99.20" y="396.44" width="6.60" height="50.86" fill="#e2e2e2" stroke="#222" stroke-width="1.10"/>
<line x1="113.60" y1="387.61" x2="113.60" y2="356.93" stroke="#222" stroke-width="1.32"/>
<line x1="111.80" y1="356.93" x2="115.40" y2="356.93" stroke="#222" stroke-width="1.76"/>
<rect x="110.30" y="387.61" width="6.60" height="59.69" fill="#6a6a6a" stroke="#222" stroke-width="1.10"/>
<line x1="124.60" y1="382.99" x2="124.60" y2="335.49" stroke="#222" stroke-width="1.32"/>
<line x1="122.80" y1="335.49" x2="126.40" y2="335.49" stroke="#222" stroke-width="1.76"/>
<rect x="121.30" y="382.99" width="6.60" height="64.31" fill="#141414" stroke="#222" stroke-width="1.10"/>
<line x1="143.25" y1="404.01" x2="143.25" y2="380.89" stroke="#222" stroke-width="1.32"/>
<line x1="141.45" y1="380.89" x2="145.05" y2="380.89" stroke="#222" stroke-width="1.76"/>
<rect x="140.00" y="404.01" width="6.50" height="43.29" fill="#fff" stroke="#222" stroke-width="1.10"/>
<line x1="154.20" y1="426.28" x2="154.20" y2="408.21" stroke="#222" stroke-width="1.32"/>
<line x1="152.40" y1="408.21" x2="156.00" y2="408.21" stroke="#222" stroke-width="1.76"/>
<rect x="150.90" y="426.28" width="6.60" height="21.02" fill="#e2e2e2" stroke="#222" stroke-width="1.10"/>
<line x1="165.15" y1="431.75" x2="165.15" y2="424.18" stroke="#222" stroke-width="1.32"/>
<line x1="163.35" y1="424.18" x2="166.95" y2="424.18" stroke="#222" stroke-width="1.76"/>
<rect x="161.90" y="431.75" width="6.50" height="15.55" fill="#6a6a6a" stroke="#222" stroke-width="1.10"/>
<line x1="176.20" y1="435.53" x2="176.20" y2="430.07" stroke="#222" stroke-width="1.32"/>
<line x1="174.40" y1="430.07" x2="178.00" y2="430.07" stroke="#222" stroke-width="1.76"/>
<rect x="172.80" y="435.53" width="6.80" height="11.77" fill="#141414" stroke="#222" stroke-width="1.10"/>
<line x1="195.30" y1="436.37" x2="195.30" y2="429.23" stroke="#222" stroke-width="1.32"/>
<line x1="193.50" y1="429.23" x2="197.10" y2="429.23" stroke="#222" stroke-width="1.76"/>
<rect x="192.10" y="436.37" width="6.40" height="10.93" fill="#fff" stroke="#222" stroke-width="1.10"/>
<line x1="206.70" y1="445.20" x2="206.70" y2="442.68" stroke="#222" stroke-width="1.32"/>
<line x1="204.90" y1="442.68" x2="208.50" y2="442.68" stroke="#222" stroke-width="1.76"/>
<rect x="203.30" y="445.20" width="6.80" height="2.10" fill="#e2e2e2" stroke="#222" stroke-width="1.10"/>
<line x1="217.70" y1="443.94" x2="217.70" y2="439.73" stroke="#222" stroke-width="1.32"/>
<line x1="215.90" y1="439.73" x2="219.50" y2="439.73" stroke="#222" stroke-width="1.76"/>
<rect x="214.30" y="443.94" width="6.80" height="3.36" fill="#6a6a6a" stroke="#222" stroke-width="1.10"/>
<line x1="228.75" y1="443.94" x2="228.75" y2="439.73" stroke="#222" stroke-width="1.32"/>
<line x1="226.95" y1="439.73" x2="230.55" y2="439.73" stroke="#222" stroke-width="1.76"/>
<rect x="225.40" y="443.94" width="6.70" height="3.36" fill="#141414" stroke="#222" stroke-width="1.10"/>
<line x1="81.60" y1="447.30" x2="239.00" y2="447.30" stroke="#222" stroke-width="1.30"/>
<line x1="107.60" y1="447.30" x2="107.60" y2="449.40" stroke="#222" stroke-width="1.10"/>
<line x1="159.60" y1="447.30" x2="159.60" y2="449.40" stroke="#222" stroke-width="1.10"/>
<line x1="212.30" y1="447.30" x2="212.30" y2="449.40" stroke="#222" stroke-width="1.10"/>
<text x="99.16" y="462.20" font-size="11.05" fill="#111">BM</text>
<text x="139.63" y="462.20" font-size="10.69" fill="#111">138- BM</text>
<text x="204.28" y="462.20" font-size="10.81" fill="#111">PB</text>
<text transform="translate(39.70,411.54) rotate(-90)" x="0" y="0" font-size="9.60" fill="#111">% Bregs in</text>
<text transform="translate(53.40,417.32) rotate(-90)" x="0" y="0" font-size="10.20" fill="#111">CD19+ B cells</text>
<path d="M143.30,367.60 L143.30,366.00 L178.40,366.00 L178.40,367.60" fill="none" stroke="#222" stroke-width="1.20"/>
<text x="160.30" y="366.95" font-size="9.00" text-anchor="middle" fill="#222">*</text>
<path d="M143.30,375.50 L143.30,373.90 L166.90,373.90 L166.90,375.50" fill="none" stroke="#222" stroke-width="1.20"/>
<text x="155.90" y="374.35" font-size="9.00" text-anchor="middle" fill="#222">*</text>
<path d="M194.80,395.30 L194.80,393.70 L228.60,393.70 L228.60,395.30" fill="none" stroke="#222" stroke-width="1.20"/>
<text x="210.80" y="395.35" font-size="9.00" text-anchor="middle" fill="#222">*</text>
<path d="M194.80,403.70 L194.80,402.10 L217.50,402.10 L217.50,403.70" fill="none" stroke="#222" stroke-width="1.20"/>
<text x="206.40" y="403.95" font-size="9.00" text-anchor="middle" fill="#222">*</text>
<path d="M194.80,413.80 L194.80,412.20 L205.90,412.20 L205.90,413.80" fill="none" stroke="#222" stroke-width="1.20"/>
<text x="200.60" y="414.15" font-size="9.00" text-anchor="middle" fill="#222">*</text>
<rect x="68.20" y="472.20" width="7.40" height="7.60" fill="#fff" stroke="#222" stroke-width="1.20"/>
<text x="79.75" y="479.20" font-size="9.69" fill="#111">Day 0</text>
<rect x="118.00" y="472.20" width="7.40" height="7.60" fill="#e2e2e2" stroke="#222" stroke-width="1.20"/>
<text x="129.68" y="479.20" font-size="9.32" fill="#111">Day 1</text>
<rect x="164.30" y="472.20" width="7.40" height="7.60" fill="#6a6a6a" stroke="#222" stroke-width="1.20"/>
<text x="175.86" y="479.20" font-size="9.55" fill="#111">Day 3</text>
<rect x="210.40" y="472.20" width="7.40" height="7.60" fill="#141414" stroke="#222" stroke-width="1.20"/>
<text x="222.58" y="479.20" font-size="9.25" fill="#111">Day 5</text>
<text x="358.89" y="310.40" font-size="14.88" fill="#111">d</text>
<text x="419.00" y="314.70" font-size="12.20" fill="#111">% Apoptosis in Bregs</text>
<line x1="405.30" y1="345.10" x2="405.30" y2="451.90" stroke="#333" stroke-width="1.10"/>
<line x1="403.30" y1="451.90" x2="405.30" y2="451.90" stroke="#333" stroke-width="1.10"/>
<text x="393.65" y="455.25" font-size="9.60" fill="#111">0</text>
<line x1="403.30" y1="425.20" x2="405.30" y2="425.20" stroke="#333" stroke-width="1.10"/>
<text x="388.32" y="428.55" font-size="9.60" fill="#111">20</text>
<line x1="403.30" y1="398.50" x2="405.30" y2="398.50" stroke="#333" stroke-width="1.10"/>
<text x="388.32" y="401.85" font-size="9.60" fill="#111">40</text>
<line x1="403.30" y1="371.80" x2="405.30" y2="371.80" stroke="#333" stroke-width="1.10"/>
<text x="388.32" y="375.15" font-size="9.60" fill="#111">60</text>
<line x1="403.30" y1="345.10" x2="405.30" y2="345.10" stroke="#333" stroke-width="1.10"/>
<text x="388.32" y="348.45" font-size="9.60" fill="#111">80</text>
<line x1="417.05" y1="440.55" x2="417.05" y2="437.21" stroke="#222" stroke-width="1.32"/>
<line x1="414.75" y1="437.21" x2="419.35" y2="437.21" stroke="#222" stroke-width="1.76"/>
<rect x="412.10" y="440.55" width="9.90" height="11.35" fill="#141414" stroke="#222" stroke-width="1.10"/>
<line x1="433.55" y1="434.68" x2="433.55" y2="429.07" stroke="#222" stroke-width="1.32"/>
<line x1="431.25" y1="429.07" x2="435.85" y2="429.07" stroke="#222" stroke-width="1.76"/>
<rect x="428.60" y="434.68" width="9.90" height="17.22" fill="#fff" stroke="#222" stroke-width="1.10"/>
<line x1="449.75" y1="441.49" x2="449.75" y2="436.81" stroke="#222" stroke-width="1.32"/>
<line x1="447.45" y1="436.81" x2="452.05" y2="436.81" stroke="#222" stroke-width="1.76"/>
<rect x="444.80" y="441.49" width="9.90" height="10.41" fill="#9a9a9a" stroke="#222" stroke-width="1.10"/>
<line x1="477.25" y1="411.58" x2="477.25" y2="387.55" stroke="#222" stroke-width="1.32"/>
<line x1="474.95" y1="387.55" x2="479.55" y2="387.55" stroke="#222" stroke-width="1.76"/>
<rect x="472.10" y="411.58" width="10.30" height="40.32" fill="#141414" stroke="#222" stroke-width="1.10"/>
<line x1="493.80" y1="394.50" x2="493.80" y2="357.12" stroke="#222" stroke-width="1.32"/>
<line x1="491.50" y1="357.12" x2="496.10" y2="357.12" stroke="#222" stroke-width="1.76"/>
<rect x="488.80" y="394.50" width="10.00" height="57.40" fill="#fff" stroke="#222" stroke-width="1.10"/>
<line x1="509.65" y1="428.14" x2="509.65" y2="426.94" stroke="#222" stroke-width="1.32"/>
<line x1="507.35" y1="426.94" x2="511.95" y2="426.94" stroke="#222" stroke-width="1.76"/>
<rect x="504.60" y="428.14" width="10.10" height="23.76" fill="#9a9a9a" stroke="#222" stroke-width="1.10"/>
<line x1="537.30" y1="419.46" x2="537.30" y2="402.77" stroke="#222" stroke-width="1.32"/>
<line x1="535.00" y1="402.77" x2="539.60" y2="402.77" stroke="#222" stroke-width="1.76"/>
<rect x="532.00" y="419.46" width="10.60" height="32.44" fill="#141414" stroke="#222" stroke-width="1.10"/>
<line x1="554.25" y1="371.80" x2="554.25" y2="358.45" stroke="#222" stroke-width="1.32"/>
<line x1="551.95" y1="358.45" x2="556.55" y2="358.45" stroke="#222" stroke-width="1.76"/>
<rect x="549.20" y="371.80" width="10.10" height="80.10" fill="#fff" stroke="#222" stroke-width="1.10"/>
<line x1="570.05" y1="419.73" x2="570.05" y2="416.66" stroke="#222" stroke-width="1.32"/>
<line x1="567.75" y1="416.66" x2="572.35" y2="416.66" stroke="#222" stroke-width="1.76"/>
<rect x="565.00" y="419.73" width="10.10" height="32.17" fill="#9a9a9a" stroke="#222" stroke-width="1.10"/>
<line x1="405.30" y1="451.90" x2="582.20" y2="451.90" stroke="#222" stroke-width="1.30"/>
<line x1="433.50" y1="451.90" x2="433.50" y2="453.80" stroke="#222" stroke-width="1.10"/>
<line x1="493.60" y1="451.90" x2="493.60" y2="453.80" stroke="#222" stroke-width="1.10"/>
<line x1="553.70" y1="451.90" x2="553.70" y2="453.80" stroke="#222" stroke-width="1.10"/>
<text x="419.63" y="466.30" font-size="10.02" fill="#111">Day 1</text>
<text x="480.12" y="466.30" font-size="10.10" fill="#111">Day 3</text>
<text x="540.43" y="466.30" font-size="10.06" fill="#111">Day 5</text>
<text transform="translate(366.60,434.35) rotate(-90)" x="0" y="0" font-size="9.90" fill="#111">% Apoptosis in</text>
<text transform="translate(378.20,412.06) rotate(-90)" x="0" y="0" font-size="9.80" fill="#111">Bregs</text>
<path d="M475.40,343.40 L475.40,341.40 L511.80,341.40 L511.80,343.40 M493.50,341.40 L493.50,343.40" fill="none" stroke="#222" stroke-width="1.10"/>
<path d="M534.70,343.40 L534.70,341.40 L571.80,341.40 L571.80,343.40 M553.20,341.40 L553.20,343.40" fill="none" stroke="#222" stroke-width="1.10"/>
<text x="484.00" y="340.15" font-size="9.00" text-anchor="middle" fill="#222">*</text>
<text x="503.20" y="340.15" font-size="9.00" text-anchor="middle" fill="#222">*</text>
<text x="543.20" y="340.15" font-size="9.00" text-anchor="middle" fill="#222">*</text>
<text x="562.50" y="340.15" font-size="9.00" text-anchor="middle" fill="#222">*</text>
<rect x="394.20" y="477.40" width="8.40" height="8.60" fill="#141414" stroke="#222" stroke-width="1.20"/>
<text x="407.80" y="484.50" font-size="10.41" fill="#111">BM</text>
<rect x="435.80" y="477.40" width="8.40" height="8.60" fill="#fff" stroke="#222" stroke-width="1.20"/>
<text x="448.66" y="484.50" font-size="10.12" fill="#111">138- BM</text>
<rect x="497.20" y="477.40" width="8.40" height="8.60" fill="#9a9a9a" stroke="#222" stroke-width="1.20"/>
<text x="510.08" y="484.50" font-size="10.14" fill="#111">CD138+ Back BM</text>
</svg>
</body></html>
